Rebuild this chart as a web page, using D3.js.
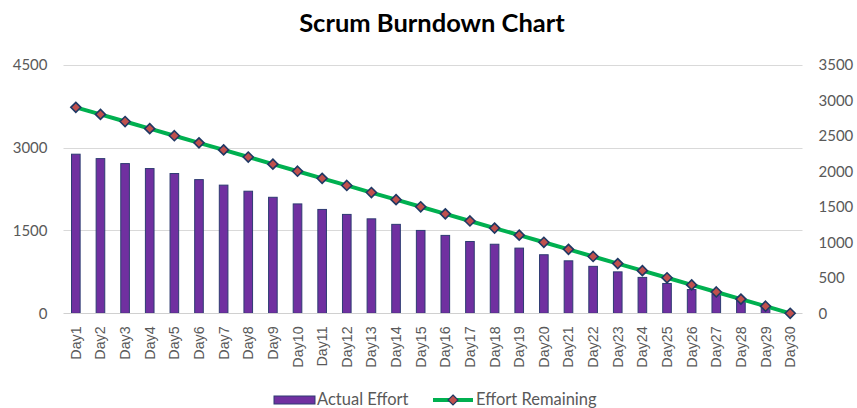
<!DOCTYPE html>
<html>
<head>
<meta charset="utf-8">
<script src="https://cdn.jsdelivr.net/npm/d3@7"></script>
<style>
  html, body { margin: 0; padding: 0; background: #ffffff; }
  svg { display: block; }
</style>
</head>
<body>
<div id="chart"></div>
<script>
const days = ["Day1","Day2","Day3","Day4","Day5","Day6","Day7","Day8","Day9","Day10",
  "Day11","Day12","Day13","Day14","Day15","Day16","Day17","Day18","Day19","Day20",
  "Day21","Day22","Day23","Day24","Day25","Day26","Day27","Day28","Day29","Day30"];
const actualEffort = [2880, 2800, 2710, 2620, 2530, 2420, 2320, 2210, 2100, 1980,
  1880, 1790, 1710, 1610, 1500, 1410, 1300, 1250, 1180, 1060,
  950, 850, 750, 650, 540, 430, 350, 240, 120, 0];
const effortRemaining = [2900, 2800, 2700, 2600, 2500, 2400, 2300, 2200, 2100, 2000,
  1900, 1800, 1700, 1600, 1500, 1400, 1300, 1200, 1100, 1000,
  900, 800, 700, 600, 500, 400, 300, 200, 100, 0];
const leftTicks = [0, 1500, 3000, 4500];
const rightTicks = [0, 500, 1000, 1500, 2000, 2500, 3000, 3500];
const titleText = "Scrum Burndown Chart";
const seriesNames = ["Actual Effort", "Effort Remaining"];

const W = 857, H = 408;
const plot = { left: 63.5, right: 802.5, top: 64.7, bottom: 313.3 };

const svg = d3.select("#chart").append("svg")
  .attr("width", W).attr("height", H)
  .attr("viewBox", `0 0 ${W} ${H}`);

const x = d3.scaleBand().domain(days)
  .range([plot.left, plot.right])
  .paddingInner(0.65).paddingOuter(0.325);
const yL = d3.scaleLinear().domain([0, 4500]).range([plot.bottom, plot.top]);
const yR = d3.scaleLinear().domain([0, 3500]).range([plot.bottom, plot.top]);

// Title
svg.append("text")
  .attr("x", 432).attr("y", 32)
  .attr("text-anchor", "middle")
  .style("font-family", "Lato, 'Open Sans', sans-serif")
  .style("font-weight", "700")
  .style("font-size", "25.5px")
  .attr("fill", "#000000")
  .text(titleText);

// Gridlines
svg.append("g").selectAll("line")
  .data(leftTicks.filter(d => d !== 0))
  .join("line")
  .attr("x1", plot.left).attr("x2", plot.right)
  .attr("y1", d => Math.round(yL(d)) + 0.5).attr("y2", d => Math.round(yL(d)) + 0.5)
  .attr("stroke", "#d9d9d9").attr("stroke-width", 1);

// Left axis
const leftAxis = svg.append("g")
  .attr("transform", `translate(${plot.left - 16},0)`)
  .call(d3.axisLeft(yL).tickValues(leftTicks).tickSize(0).tickPadding(0).tickFormat(d3.format("d")));
leftAxis.select(".domain").remove();
leftAxis.selectAll("text")
  .style("font-family", "Lato, 'Open Sans', sans-serif")
  .style("font-size", "15px")
  .attr("fill", "#595959");

// Right axis
const rightAxis = svg.append("g")
  .attr("transform", `translate(${plot.right + 16},0)`)
  .call(d3.axisRight(yR).tickValues(rightTicks).tickSize(0).tickPadding(0).tickFormat(d3.format("d")));
rightAxis.select(".domain").remove();
rightAxis.selectAll("text")
  .style("font-family", "Lato, 'Open Sans', sans-serif")
  .style("font-size", "15px")
  .attr("fill", "#595959");

// Bars
svg.append("g").selectAll("rect")
  .data(days.map((d, i) => ({ day: d, v: actualEffort[i] })))
  .join("rect")
  .attr("x", d => x(d.day))
  .attr("width", x.bandwidth())
  .attr("y", d => yL(d.v))
  .attr("height", d => yL(0) - yL(d.v))
  .attr("fill", "#7030A0")
  .attr("stroke", "#2E3B72")
  .attr("stroke-width", 1);

// Bottom axis line
svg.append("line")
  .attr("x1", plot.left).attr("x2", plot.right)
  .attr("y1", Math.round(yL(0)) + 0.5).attr("y2", Math.round(yL(0)) + 0.5)
  .attr("stroke", "#d0d0d0").attr("stroke-width", 1);

// X axis labels
const xAxis = svg.append("g")
  .attr("transform", `translate(0,${plot.bottom})`)
  .call(d3.axisBottom(x).tickSize(0).tickPadding(0));
xAxis.select(".domain").remove();
xAxis.selectAll("text")
  .attr("transform", "rotate(-90)")
  .attr("x", -13).attr("y", 0).attr("dy", "0.35em")
  .attr("text-anchor", "end")
  .style("font-family", "'Liberation Sans', Arial, sans-serif")
  .style("font-size", "14.3px")
  .attr("fill", "#595959");

// Line
const cx = d => x(d) + x.bandwidth() / 2;
const line = d3.line()
  .x((d, i) => cx(days[i]))
  .y(d => yR(d));
svg.append("path")
  .datum(effortRemaining)
  .attr("d", line)
  .attr("fill", "none")
  .attr("stroke", "#00B050")
  .attr("stroke-width", 4)
  .attr("stroke-linejoin", "round");

const diamond = "M0,-5L5,0L0,5L-5,0Z";
svg.append("g").selectAll("path")
  .data(effortRemaining)
  .join("path")
  .attr("transform", (d, i) => `translate(${cx(days[i])},${yR(d)})`)
  .attr("d", diamond)
  .attr("fill", "#C0504D")
  .attr("stroke", "#1F3864")
  .attr("stroke-width", 1.6);

// Legend
const lg = svg.append("g");
lg.append("rect")
  .attr("x", 274).attr("y", 396).attr("width", 41).attr("height", 8)
  .attr("fill", "#7030A0").attr("stroke", "#2E3B72").attr("stroke-width", 1);
lg.append("text")
  .attr("x", 317).attr("y", 405)
  .style("font-family", "Lato, 'Open Sans', sans-serif")
  .style("font-size", "16.5px")
  .attr("fill", "#595959")
  .text(seriesNames[0]);
lg.append("line")
  .attr("x1", 433).attr("x2", 473).attr("y1", 400).attr("y2", 400)
  .attr("stroke", "#00B050").attr("stroke-width", 4);
lg.append("path")
  .attr("transform", "translate(453,400)")
  .attr("d", diamond)
  .attr("fill", "#C0504D").attr("stroke", "#1F3864").attr("stroke-width", 1.2);
lg.append("text")
  .attr("x", 476).attr("y", 405)
  .style("font-family", "Lato, 'Open Sans', sans-serif")
  .style("font-size", "16.5px")
  .attr("fill", "#595959")
  .text(seriesNames[1]);
</script>
</body>
</html>
